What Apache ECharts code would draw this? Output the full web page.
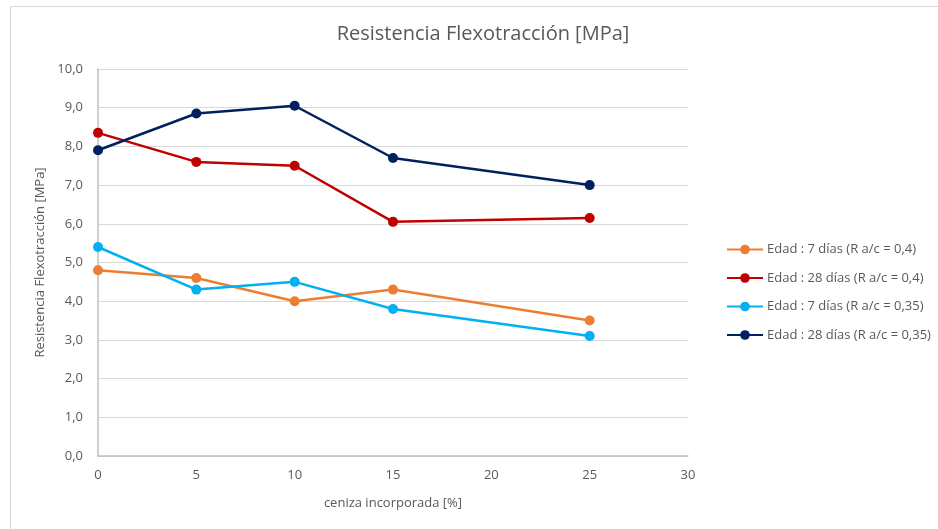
<!DOCTYPE html>
<html>
<head>
<meta charset="utf-8">
<script src="https://cdn.jsdelivr.net/npm/echarts@6/dist/echarts.min.js"></script>
<style>
html,body{margin:0;padding:0;background:#fff;}
#c{width:938px;height:529px;}
</style>
</head>
<body>
<div id="c"></div>
<script>
const xValues = [0, 5, 10, 15, 25];
const seriesNames = [
  'Edad : 7 días (R a/c = 0,4)',
  'Edad : 28 días (R a/c = 0,4)',
  'Edad : 7 días (R a/c = 0,35)',
  'Edad : 28 días (R a/c = 0,35)'
];
const edad7_04 = [4.8, 4.6, 4.0, 4.3, 3.5];
const edad28_04 = [8.35, 7.6, 7.5, 6.05, 6.15];
const edad7_035 = [5.4, 4.3, 4.5, 3.8, 3.1];
const edad28_035 = [7.9, 8.85, 9.05, 7.7, 7.0];
const seriesColors = ['#ED7D31', '#C00000', '#00B0F0', '#002060'];

const allValues = [edad7_04, edad28_04, edad7_035, edad28_035];
const font = '"Open Sans", "Noto Sans", sans-serif';
const chart = echarts.init(document.getElementById('c'));
chart.setOption({
  backgroundColor: '#fff',
  animation: false,
  graphic: [{
    type: 'rect', left: 8, top: 4,
    shape: { width: 1200, height: 1000 },
    style: { fill: 'none', stroke: '#d9d9d9', lineWidth: 1 }
  }],
  title: {
    text: 'Resistencia Flexotracción [MPa]',
    left: 478, top: 19, textAlign: 'center',
    textStyle: { fontFamily: font, fontSize: 20, fontWeight: 'normal', color: '#595959' }
  },
  legend: {
    orient: 'vertical', left: 721, top: 238,
    itemWidth: 36, itemHeight: 12, itemGap: 15.5,
    textStyle: { fontFamily: font, fontSize: 13, color: '#595959', padding: [0, 0, 0, -1] },
    data: seriesNames
  },
  grid: { left: 98, right: 250, top: 69, bottom: 73 },
  xAxis: {
    type: 'value', min: 0, max: 30, interval: 5,
    name: 'ceniza incorporada [%]', nameLocation: 'middle', nameGap: 41,
    nameTextStyle: { fontFamily: font, fontSize: 13, color: '#595959' },
    axisLine: { show: true, lineStyle: { color: '#bfbfbf', width: 1.5 } },
    axisTick: { show: false },
    splitLine: { show: false },
    axisLabel: { fontFamily: font, fontSize: 13, color: '#595959', margin: 13 }
  },
  yAxis: {
    type: 'value', min: 0, max: 10, interval: 1,
    name: 'Resistencia Flexotracción [MPa]', nameLocation: 'middle', nameGap: 50,
    nameTextStyle: { fontFamily: font, fontSize: 13, color: '#595959' },
    axisLine: { show: true, lineStyle: { color: '#bfbfbf', width: 1.5 } },
    axisTick: { show: false },
    splitLine: { show: true, lineStyle: { color: '#d9d9d9', width: 1.2 } },
    axisLabel: { fontFamily: font, fontSize: 13, color: '#595959', margin: 15,
      formatter: v => v.toFixed(1).replace('.', ',') }
  },
  series: seriesNames.map((n, i) => ({
    name: n, type: 'line',
    data: xValues.map((x, j) => [x, allValues[i][j]]),
    symbol: 'circle', symbolSize: 10,
    lineStyle: { width: 2.5, color: seriesColors[i] },
    itemStyle: { color: seriesColors[i] }
  }))
});
</script>
</body>
</html>
